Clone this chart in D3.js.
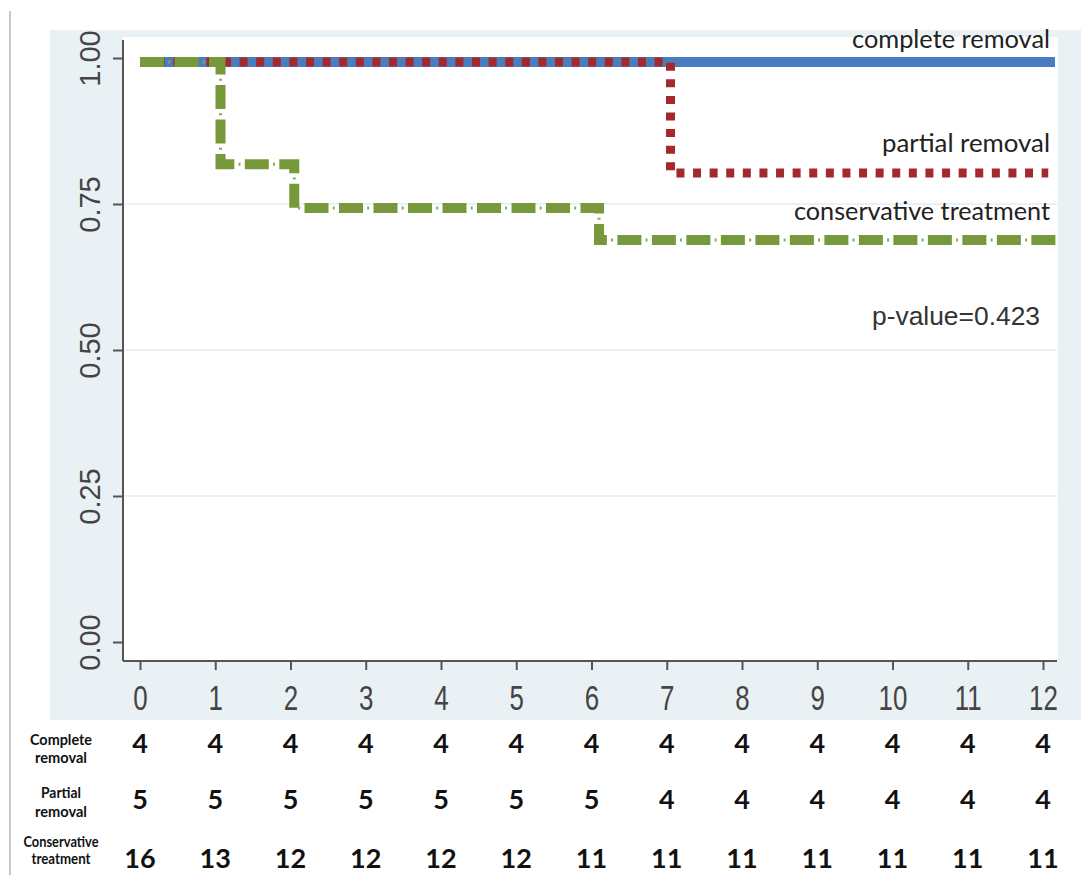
<!DOCTYPE html>
<html>
<head>
<meta charset="utf-8">
<script src="https://cdn.jsdelivr.net/npm/d3@7"></script>
<style>
  html, body { margin: 0; padding: 0; background: #ffffff; }
  svg { display: block; }
</style>
</head>
<body>
<svg id="chart" width="1081" height="875"></svg>
<script>
// ---------- data ----------
const xTicks = [0,1,2,3,4,5,6,7,8,9,10,11,12];
const yTicks = [0, 0.25, 0.5, 0.75, 1];
const yTickLabels = ["0.00","0.25","0.50","0.75","1.00"];
const gridValues = [0.25, 0.5, 0.75];

// Kaplan-Meier step curves (time in months, survival probability)
const completeTimes = [0, 12.16];
const completeSurv  = [1, 1];
const partialTimes  = [0, 7.05, 12.07];
const partialSurv   = [1, 0.81, 0.81];
const conservTimes  = [0, 1.07, 2.05, 6.1, 12.19];
const conservSurv   = [1, 0.825, 0.75, 0.695, 0.695];

const seriesNames = ["complete removal", "partial removal", "conservative treatment"];
const pValueText = "p-value=0.423";

// number at risk table
const riskRowLabels = [["Complete","removal"],["Partial","removal"],["Conservative","treatment"]];
const riskComplete = [4,4,4,4,4,4,4,4,4,4,4,4,4];
const riskPartial  = [5,5,5,5,5,5,5,4,4,4,4,4,4];
const riskConserv  = [16,13,12,12,12,12,11,11,11,11,11,11,11];

// ---------- drawing ----------
const svg = d3.select("#chart");
const x = d3.scaleLinear().domain([0,12]).range([140,1043]);
const y = d3.scaleLinear().domain([0,1]).range([642,58]);

// page border line on the left
svg.append("line").attr("x1",10).attr("x2",10).attr("y1",11).attr("y2",875)
  .attr("stroke","#c9c9c9").attr("stroke-width",2);

// graph region (light blue-grey) and plot region (white)
svg.append("rect").attr("x",50).attr("y",30).attr("width",1031).attr("height",690).attr("fill","#eaf1f5");
svg.append("rect").attr("x",123).attr("y",37).attr("width",935).attr("height",624).attr("fill","#ffffff");

// grid lines
svg.append("g").selectAll("line").data(gridValues).join("line")
  .attr("x1",124).attr("x2",1057)
  .attr("y1",d=>y(d)).attr("y2",d=>y(d))
  .attr("stroke","#e3ecf1").attr("stroke-width",1.5);

// axes
const yAxis = svg.append("g").attr("transform","translate(123,0)")
  .call(d3.axisLeft(y).tickValues(yTicks).tickFormat((d,i)=>yTickLabels[i]).tickSize(10).tickSizeOuter(0));
yAxis.select(".domain").attr("d","M0,40V661").attr("stroke","#555").attr("stroke-width",2);
yAxis.selectAll(".tick line").attr("stroke","#555").attr("stroke-width",2);
yAxis.selectAll(".tick text")
  .attr("transform","rotate(-90)")
  .attr("x",0).attr("y",-23).attr("dy",0)
  .attr("text-anchor","middle")
  .attr("fill","#444")
  .style("font-family","'Liberation Sans', Arial, sans-serif")
  .style("font-size","29px");

const xAxis = svg.append("g").attr("transform","translate(0,661)")
  .call(d3.axisBottom(x).tickValues(xTicks).tickFormat(d3.format("d")).tickSize(9).tickSizeOuter(0));
xAxis.select(".domain").attr("d","M123,0H1057").attr("stroke","#555").attr("stroke-width",2);
xAxis.selectAll(".tick line").attr("stroke","#555").attr("stroke-width",2);
xAxis.selectAll(".tick text")
  .attr("y",49).attr("dy",0)
  .attr("transform","scale(0.74,1)")
  .attr("text-anchor","middle")
  .attr("fill","#444")
  .style("font-family","'Liberation Sans', Arial, sans-serif")
  .style("font-size","35px");

// survival curves
const line = d3.line().x(d=>x(d[0])).y(d=>y(d[1])).curve(d3.curveStepAfter);
const zip = (t,s) => t.map((v,i)=>[v,s[i]]);
const curves = svg.append("g").attr("transform","translate(0,4)");

curves.append("path").attr("d",line(zip(completeTimes,completeSurv)))
  .attr("fill","none").attr("stroke","#4a7dbf").attr("stroke-width",10);

curves.append("path").attr("d",line(zip(partialTimes,partialSurv)))
  .attr("fill","none").attr("stroke","#a3292d").attr("stroke-width",9)
  .attr("stroke-dasharray","8,8.6");

const consPath = line(zip(conservTimes,conservSurv));
curves.append("path").attr("d",consPath)
  .attr("fill","none").attr("stroke","#77983b").attr("stroke-width",10)
  .attr("stroke-dasharray","24,10.5");
curves.append("path").attr("d",consPath)
  .attr("fill","none").attr("stroke","#8aa85a").attr("stroke-width",3)
  .attr("stroke-dasharray","2,32.5").attr("stroke-dashoffset",-28.2);

// curve labels
const labelFont = "Lato, 'Open Sans', sans-serif";
const labels = [
  {t: seriesNames[0], y: 48, len: 198},
  {t: seriesNames[1], y: 152, len: 168},
  {t: seriesNames[2], y: 220, len: 256}
];
svg.append("g").selectAll("text").data(labels).join("text")
  .attr("x",1050).attr("y",d=>d.y)
  .attr("text-anchor","end")
  .attr("textLength",d=>d.len).attr("lengthAdjust","spacingAndGlyphs")
  .attr("fill","#222")
  .style("font-family",labelFont).style("font-size","25px")
  .text(d=>d.t);

svg.append("text").attr("x",1040).attr("y",325).attr("text-anchor","end")
  .attr("textLength",168).attr("lengthAdjust","spacingAndGlyphs")
  .attr("fill","#333")
  .style("font-family","'Liberation Sans Narrow', 'Liberation Sans', Arial, sans-serif")
  .style("font-size","26px")
  .text(pValueText);

// number at risk table
const riskRows = [riskComplete, riskPartial, riskConserv];
const rowBase = [753, 809, 868];
const rowLabelLines = [[745,763],[798,817],[847,864]];
const rowLabelLen = [[62,52],[40,52],[75,59]];
const table = svg.append("g");
riskRows.forEach((row,ri)=>{
  table.append("g").selectAll("text").data(row).join("text")
    .attr("x",(d,i)=>x(xTicks[i])).attr("y",rowBase[ri])
    .attr("text-anchor","middle")
    .attr("fill","#111")
    .style("font-family",labelFont).style("font-weight","bold").style("font-size","27px")
    .text(d=>d);
  riskRowLabels[ri].forEach((s,li)=>{
    table.append("text").attr("x",61).attr("y",rowLabelLines[ri][li])
      .attr("text-anchor","middle")
      .attr("textLength",rowLabelLen[ri][li]).attr("lengthAdjust","spacingAndGlyphs")
      .attr("fill","#111")
      .style("font-family",labelFont).style("font-weight","bold").style("font-size","16px")
      .text(s);
  });
});
</script>
</body>
</html>
